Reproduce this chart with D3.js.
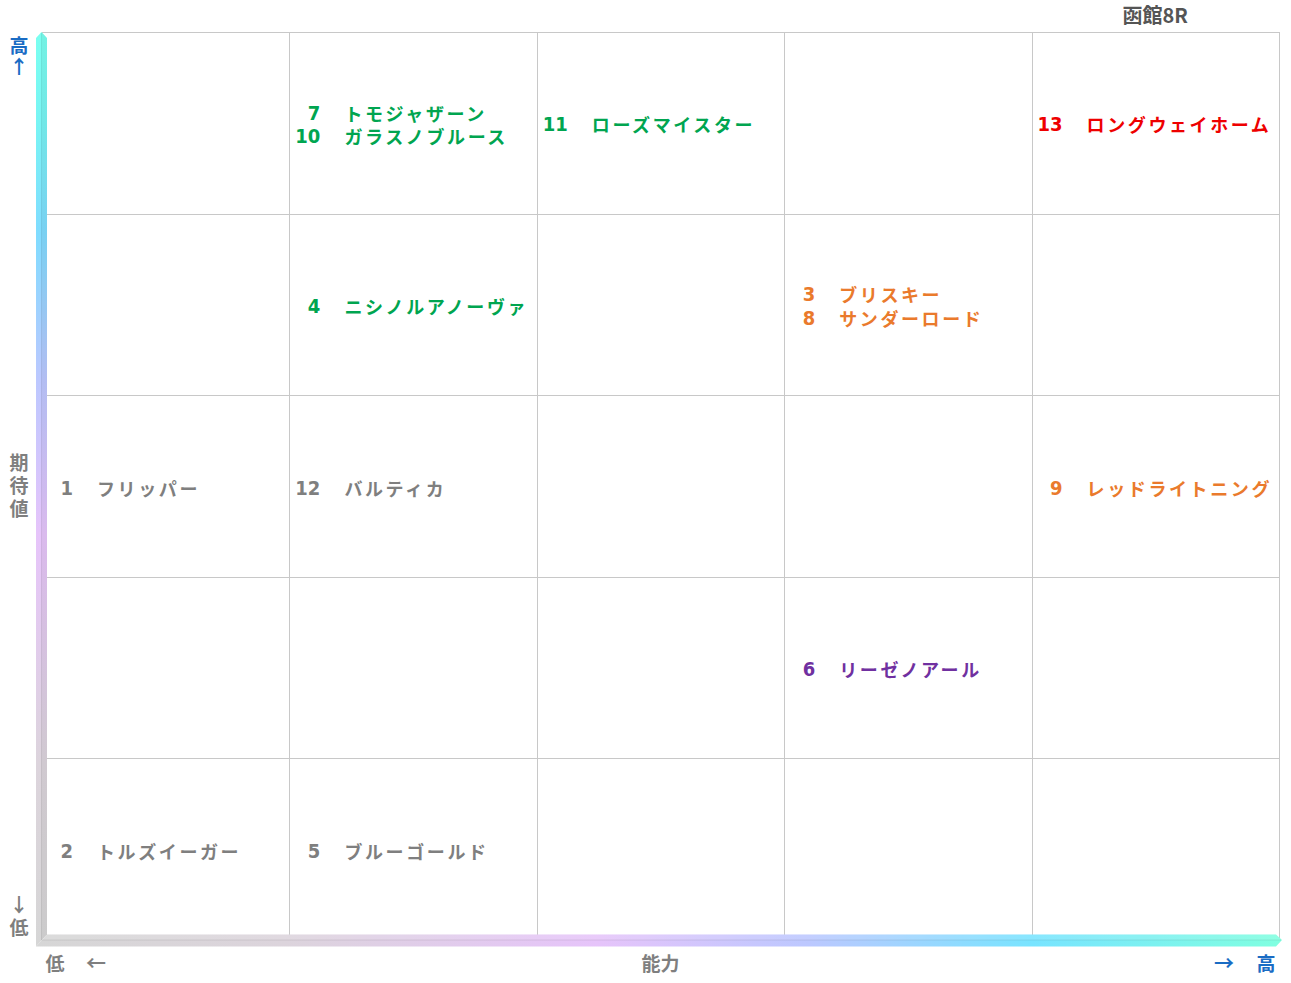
<!DOCTYPE html>
<html lang="ja">
<head>
<meta charset="utf-8">
<title>函館8R</title>
<script src="https://cdn.jsdelivr.net/npm/d3@7"></script>
<style>
  html, body { margin: 0; padding: 0; background: #fff; }
  svg { display: block; }
</style>
</head>
<body>
<svg id="chart" width="1291" height="983"></svg>
<script>
// Race title
const raceTitle = "函館8R";

// Grid levels: ability (left → right) and expectation (bottom → top)
const abilityLevels = [1, 2, 3, 4, 5];
const expectLevels = [1, 2, 3, 4, 5];

// Horses: number, name, ability level, expectation level, colour group
const horseNos     = [1, 2, 3, 4, 5, 6, 7, 8, 9, 10, 11, 12, 13];
const horseNames   = ["フリッパー", "トルズイーガー", "ブリスキー", "ニシノルアノーヴァ", "ブルーゴールド",
                      "リーゼノアール", "トモジャザーン", "サンダーロード", "レッドライトニング",
                      "ガラスノブルース", "ローズマイスター", "バルティカ", "ロングウェイホーム"];
const horseAbility = [1, 1, 4, 2, 2, 4, 2, 4, 5, 2, 3, 2, 5];
const horseExpect  = [3, 1, 4, 4, 1, 2, 5, 4, 3, 5, 5, 3, 5];
const horseGroup   = ["none", "none", "watch", "good", "none", "dark", "good", "watch", "watch",
                      "good", "good", "none", "top"];

// Axis wording
const yAxisName = "期待値";
const xAxisName = "能力";
const highLabel = "高";
const lowLabel = "低";

const groupColor = {
  top: "#ee0000",
  good: "#00a550",
  watch: "#ea7a2c",
  dark: "#7030a0",
  none: "#7f7f7f"
};

const svg = d3.select("#chart");
const gridLeft = 42, gridRight = 1279, gridTop = 32, gridBottom = 940;

const x = d3.scaleBand().domain(abilityLevels).range([gridLeft, gridRight]).padding(0);
const y = d3.scaleBand().domain(expectLevels.slice().reverse()).range([gridTop, gridBottom]).padding(0);

// Gradients for the two axis arrows
const defs = svg.append("defs");
const vGrad = defs.append("linearGradient").attr("id", "vGrad")
  .attr("x1", 0).attr("y1", 1).attr("x2", 0).attr("y2", 0);
[[0, "#d6d6d6"], [0.2, "#dcd4dc"], [0.45, "#e6c4fa"], [0.62, "#bcc8ff"], [0.78, "#80dcff"], [0.9, "#78f4f4"], [1, "#7afff0"]]
  .forEach(([o, c]) => vGrad.append("stop").attr("offset", o).attr("stop-color", c));
const hGrad = defs.append("linearGradient").attr("id", "hGrad")
  .attr("x1", 0).attr("y1", 0).attr("x2", 1).attr("y2", 0);
[[0, "#d6d6d6"], [0.2, "#dcd4dc"], [0.45, "#e6c4fa"], [0.62, "#bcc8ff"], [0.8, "#78e4ff"], [1, "#80ffe0"]]
  .forEach(([o, c]) => hGrad.append("stop").attr("offset", o).attr("stop-color", c));

// Grid lines
const grid = svg.append("g").attr("stroke", "#c8c8c8").attr("stroke-width", 1).attr("shape-rendering", "crispEdges");
grid.selectAll("line.v").data(abilityLevels).join("line")
  .attr("class", "v")
  .attr("x1", d => Math.round(x(d) + x.bandwidth()) + 0.5)
  .attr("x2", d => Math.round(x(d) + x.bandwidth()) + 0.5)
  .attr("y1", gridTop).attr("y2", gridBottom);
grid.selectAll("line.h").data(expectLevels).join("line")
  .attr("class", "h")
  .attr("x1", gridLeft).attr("x2", gridRight)
  .attr("y1", d => Math.round(y(d)) + 0.5)
  .attr("y2", d => Math.round(y(d)) + 0.5);

// Axis arrows
const bw = 5.5; // half width of the arrow bars
const ax = gridLeft - 0.5, ay = gridBottom;
const arrows = svg.append("g");
arrows.append("path")
  .attr("d", `M${ax - bw},${ay + bw + 1} L${ax - bw},${gridTop + 6} L${ax},${gridTop} L${ax + bw},${gridTop + 6} L${ax + bw},${ay - bw} Z`)
  .attr("fill", "url(#vGrad)");
arrows.append("path")
  .attr("d", `M${ax - bw},${ay + bw + 1} L${ax + bw},${ay - bw} L${gridRight - 3},${ay - bw} L${gridRight + 3},${ay} L${gridRight - 3},${ay + bw + 1} Z`)
  .attr("fill", "url(#hGrad)");
// shading for a bevelled look
arrows.append("path")
  .attr("d", `M${ax},${ay} L${ax},${gridTop} L${ax + bw},${gridTop + 6} L${ax + bw},${ay - bw} Z`)
  .attr("fill", "#000").attr("opacity", 0.05);
arrows.append("path")
  .attr("d", `M${ax},${ay} L${ax + bw},${ay - bw} L${gridRight - 3},${ay - bw} L${gridRight + 3},${ay} Z`)
  .attr("fill", "#fff").attr("opacity", 0.12);
arrows.append("line")
  .attr("x1", ax).attr("x2", ax).attr("y1", gridTop + 1).attr("y2", ay)
  .attr("stroke", "#000").attr("stroke-opacity", 0.08);
arrows.append("line")
  .attr("x1", ax).attr("x2", gridRight + 2).attr("y1", ay).attr("y2", ay)
  .attr("stroke", "#000").attr("stroke-opacity", 0.08);

// Horse labels, grouped by cell
const horses = horseNos.map((no, i) => ({
  no, name: horseNames[i], ab: horseAbility[i], ex: horseExpect[i], group: horseGroup[i]
}));
const cells = d3.groups(horses, d => d.ab + "-" + d.ex);
const lineH = 23.5;

const labels = svg.append("g");
cells.forEach(([key, list]) => {
  const cx = x(list[0].ab);
  const cy = y(list[0].ex) + y.bandwidth() / 2;
  list.forEach((h, j) => {
    const yy = cy + (j - (list.length - 1) / 2) * lineH + 1.5;
    labels.append("text")
      .attr("x", cx + 31).attr("y", yy)
      .attr("text-anchor", "end").attr("dominant-baseline", "central")
      .attr("font-family", "'Liberation Sans Narrow', 'DejaVu Sans Condensed', sans-serif")
      .attr("font-weight", 700)
      .attr("font-size", 20)
      .attr("fill", groupColor[h.group])
      .text(h.no);
    labels.append("text")
      .attr("x", cx + 55).attr("y", yy)
      .attr("dominant-baseline", "central")
      .attr("font-family", "'Noto Sans CJK JP', sans-serif")
      .attr("font-weight", 700)
      .attr("font-size", 18)
      .attr("letter-spacing", 2.6)
      .attr("fill", groupColor[h.group])
      .text(h.name);
  });
});

// Title
svg.append("text")
  .attr("x", x(5) + x.bandwidth() / 2).attr("y", 14)
  .attr("text-anchor", "middle").attr("dominant-baseline", "central")
  .attr("font-family", "'Noto Sans CJK JP', sans-serif")
  .attr("font-weight", 700).attr("font-size", 20)
  .attr("fill", "#555555")
  .text(raceTitle);

// Axis captions
const blue = "#1a6cc4", grey = "#7f7f7f";
const capFont = sel => sel
  .attr("font-family", "'Noto Sans CJK JP', sans-serif")
  .attr("font-weight", 700);

// horizontal captions
const cap = (tx, ty, s, color, size) => svg.append("text")
  .attr("x", tx).attr("y", ty)
  .attr("text-anchor", "middle").attr("dominant-baseline", "central")
  .call(capFont).attr("font-size", size || 19)
  .attr("fill", color).text(s);

// vertical captions along the expectation axis (upright, top to bottom)
const vcap = (tx, topY, s, color, spacing) => svg.append("text")
  .attr("x", tx).attr("y", topY)
  .style("writing-mode", "vertical-rl")
  .style("text-orientation", "upright")
  .attr("text-anchor", "start")
  .call(capFont).attr("font-size", 19)
  .attr("letter-spacing", spacing)
  .attr("fill", color).text(s);

vcap(19, 36.5, highLabel + "↑", blue, 2);
vcap(19, 453.5, yAxisName, grey, 4);
vcap(19, 895, "↓" + lowLabel, grey, 4);

cap(55, 962, lowLabel, grey);
cap(96, 962, "←", grey, 20);
cap((gridLeft + gridRight) / 2, 962, xAxisName, grey);
cap(1224, 962, "→", blue, 20);
cap(1266, 962, highLabel, blue);
</script>
</body>
</html>
